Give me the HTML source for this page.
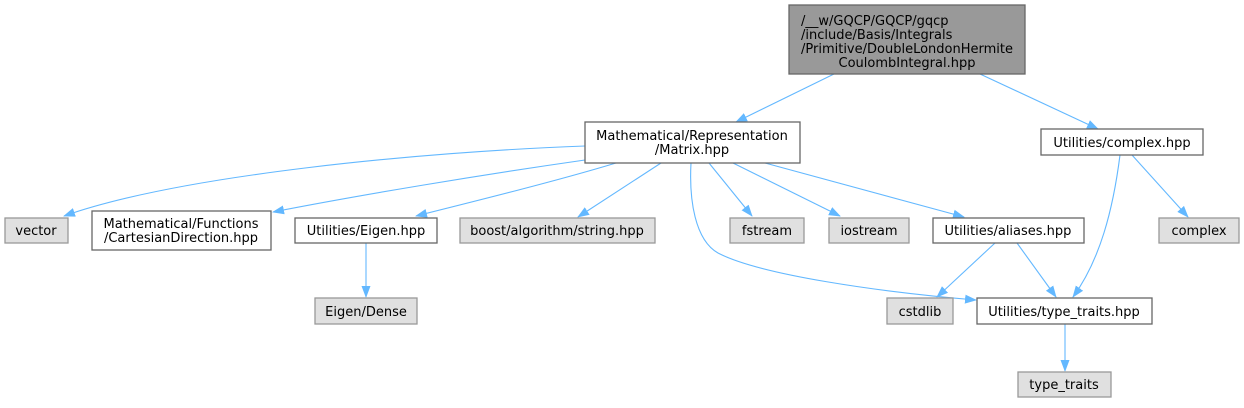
<!DOCTYPE html>
<html><head><meta charset="utf-8"><style>
html,body{margin:0;padding:0;background:#fff;}
svg text{font-family:"DejaVu Sans","Liberation Sans",sans-serif;font-size:13px;fill:#000;text-anchor:middle;}
.w{fill:#fff;stroke:#666;stroke-width:1.3}
.g{fill:#e0e0e0;stroke:#999;stroke-width:1.3}
.e{fill:none;stroke:#63b8ff;stroke-width:1.1}
</style></head><body>
<svg width="1244" height="403" viewBox="0 0 1244 403" xmlns="http://www.w3.org/2000/svg">
<defs><marker id="m" markerWidth="12" markerHeight="12" refX="11" refY="6" orient="auto" markerUnits="userSpaceOnUse"><path d="M0,1.5 L12,6 L0,10.5 Z" fill="#63b8ff"/></marker></defs>
<path class="e" marker-end="url(#m)" d="M834,74 L736,122"/>
<path class="e" marker-end="url(#m)" d="M980,74 L1098,129"/>
<path class="e" marker-end="url(#m)" d="M585,146 C420,152 180,175 64,216"/>
<path class="e" marker-end="url(#m)" d="M585,160 C480,175 360,195 273,212"/>
<path class="e" marker-end="url(#m)" d="M616,163 C560,180 480,200 416,216"/>
<path class="e" marker-end="url(#m)" d="M661,163 L578,217"/>
<path class="e" marker-end="url(#m)" d="M366,243 L366,297"/>
<path class="e" marker-end="url(#m)" d="M709,163 L752,216"/>
<path class="e" marker-end="url(#m)" d="M733,163 L840,216"/>
<path class="e" marker-end="url(#m)" d="M765,163 L964,217"/>
<path class="e" marker-end="url(#m)" d="M691,163 C689,200 695,240 718,253 C760,275 880,292 976,300"/>
<path class="e" marker-end="url(#m)" d="M995,243 L937,297"/>
<path class="e" marker-end="url(#m)" d="M1017,243 L1056,297"/>
<path class="e" marker-end="url(#m)" d="M1120,155 C1113,210 1100,260 1073,297"/>
<path class="e" marker-end="url(#m)" d="M1132,155 L1188,217"/>
<path class="e" marker-end="url(#m)" d="M1065,324 L1065,371"/>
<rect x="789" y="5" width="236" height="69" fill="#999" stroke="#666" stroke-width="1.3"/>
<text x="801" y="25" style="text-anchor:start">/__w/GQCP/GQCP/gqcp</text>
<text x="801" y="39" style="text-anchor:start">/include/Basis/Integrals</text>
<text x="801" y="53" style="text-anchor:start">/Primitive/DoubleLondonHermite</text>
<text x="907" y="67">CoulombIntegral.hpp</text>
<rect class="w" x="585" y="122" width="215" height="41"/>
<text x="692" y="140">Mathematical/Representation</text>
<text x="692" y="154">/Matrix.hpp</text>
<rect class="w" x="1041" y="129" width="162" height="26"/>
<text x="1122" y="147">Utilities/complex.hpp</text>
<rect class="g" x="5" y="218" width="63" height="25"/>
<text x="36" y="235">vector</text>
<rect class="w" x="92" y="211" width="179" height="39"/>
<text x="181" y="228">Mathematical/Functions</text>
<text x="181" y="242">/CartesianDirection.hpp</text>
<rect class="w" x="295" y="218" width="142" height="25"/>
<text x="366" y="235">Utilities/Eigen.hpp</text>
<rect class="g" x="460" y="218" width="195" height="25"/>
<text x="557" y="235">boost/algorithm/string.hpp</text>
<rect class="g" x="315" y="298" width="102" height="26"/>
<text x="366" y="316">Eigen/Dense</text>
<rect class="g" x="730" y="218" width="74" height="25"/>
<text x="767" y="235">fstream</text>
<rect class="g" x="829" y="218" width="80" height="25"/>
<text x="869" y="235">iostream</text>
<rect class="w" x="933" y="218" width="151" height="25"/>
<text x="1008" y="235">Utilities/aliases.hpp</text>
<rect class="g" x="1159" y="218" width="80" height="25"/>
<text x="1199" y="235">complex</text>
<rect class="g" x="887" y="298" width="66" height="26"/>
<text x="920" y="316">cstdlib</text>
<rect class="w" x="977" y="298" width="175" height="26"/>
<text x="1064" y="316">Utilities/type_traits.hpp</text>
<rect class="g" x="1018" y="372" width="93" height="25"/>
<text x="1064" y="389">type_traits</text>
</svg>
</body></html>
